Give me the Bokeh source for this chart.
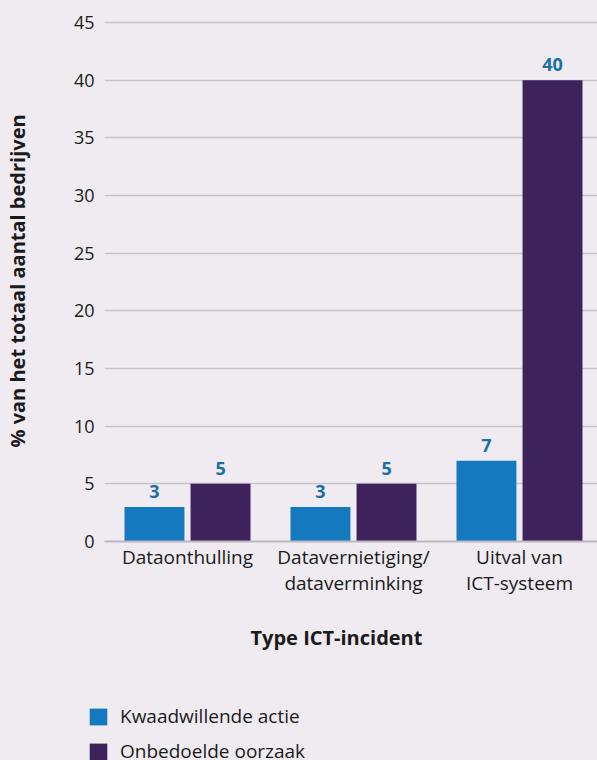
from bokeh.plotting import figure
from bokeh.layouts import column
from bokeh.models import Range1d, FixedTicker, Legend, LegendItem, ColumnDataSource, Title
from bokeh.core.properties import value
from bokeh.embed import file_html
from bokeh.resources import INLINE

categories = ["Dataonthulling", "Datavernietiging/\ndataverminking", "Uitval van\nICT-systeem"]
series_names = ["Kwaadwillende actie", "Onbedoelde oorzaak"]
kwaadwillend = [3, 3, 7]
onbedoeld = [5, 5, 40]
y_ticks = [0, 5, 10, 15, 20, 25, 30, 35, 40, 45]

FONT = "Open Sans"
BG = "#efebf1"
BLUE = "#1479bf"
PURPLE = "#3d225b"
LABEL = "#1a6fa4"
TXT = "#1a1a1a"

p = figure(width=597, height=690, output_backend="svg", toolbar_location=None,
           x_range=Range1d(0, 2.97), y_range=Range1d(0, 45.17),
           min_border_left=100, min_border_right=0, min_border_top=20, min_border_bottom=149)
p.background_fill_color = BG
p.border_fill_color = BG
p.outline_line_color = None

centers = [i + 0.5 for i in range(len(categories))]
off = 0.199
w = 0.361
src1 = ColumnDataSource(dict(x=[c - off for c in centers], top=kwaadwillend, lab=[str(v) for v in kwaadwillend]))
src2 = ColumnDataSource(dict(x=[c + off for c in centers], top=onbedoeld, lab=[str(v) for v in onbedoeld]))

r1 = p.vbar(x="x", top="top", width=w, bottom=0, source=src1, fill_color=BLUE, line_color=None)
r2 = p.vbar(x="x", top="top", width=w, bottom=0, source=src2, fill_color=PURPLE, line_color=None)

for s in (src1, src2):
    p.text(x="x", y="top", text="lab", source=s, text_align="center", text_baseline="bottom",
           y_offset=-9, text_font=value(FONT), text_font_style="bold", text_font_size="18px",
           text_color=LABEL)

# axes
p.xaxis.ticker = FixedTicker(ticks=centers)
p.xaxis.major_label_overrides = {c: lab for c, lab in zip(centers, categories)}
p.xaxis.major_tick_line_color = None
p.xaxis.minor_tick_line_color = None
p.xaxis.axis_line_color = "#bcb8bf"
p.xaxis.axis_line_width = 2
p.xaxis.major_label_text_font = FONT
p.xaxis.major_label_text_font_size = "19px"
p.xaxis.major_label_text_color = TXT
p.xaxis.major_label_text_line_height = 1.0
p.xaxis.major_label_standoff = -4

p.yaxis.ticker = FixedTicker(ticks=y_ticks)
p.yaxis.major_tick_line_color = None
p.yaxis.minor_tick_line_color = None
p.yaxis.axis_line_color = None
p.yaxis.major_label_text_font = FONT
p.yaxis.major_label_text_font_size = "18px"
p.yaxis.major_label_text_color = TXT
p.yaxis.major_label_standoff = 4
p.yaxis.axis_label = "% van het totaal aantal bedrijven"
p.yaxis.axis_label_text_font = FONT
p.yaxis.axis_label_text_font_style = "bold"
p.yaxis.axis_label_text_font_size = "20px"
p.yaxis.axis_label_text_color = TXT
p.yaxis.axis_label_standoff = 40

p.xgrid.grid_line_color = None
p.ygrid.grid_line_color = "#c6c2c9"
p.ygrid.grid_line_width = 1.5

xtitle = Title(text="Type ICT-incident", align="left", offset=146,
               text_font=FONT, text_font_style="bold", text_font_size="20px",
               text_color=TXT, standoff=47)
p.add_layout(xtitle, "below")

# legend figure
lg = figure(width=597, height=70, output_backend="svg", toolbar_location=None,
            x_range=Range1d(0, 1), y_range=Range1d(0, 1),
            x_axis_location=None, y_axis_location=None,
            min_border=0, min_border_left=0, min_border_right=0, min_border_top=0, min_border_bottom=0)
for fig in (p, lg):
    try:
        fig.frame_align = False
    except Exception:
        pass
lg.background_fill_color = BG
lg.border_fill_color = BG
lg.outline_line_color = None
lg.grid.visible = False
d1 = lg.vbar(x=[5], top=[5], width=0.1, fill_color=BLUE, line_color=None)
d2 = lg.vbar(x=[5], top=[5], width=0.1, fill_color=PURPLE, line_color=None)
legend = Legend(items=[LegendItem(label=series_names[0], renderers=[d1]),
                       LegendItem(label=series_names[1], renderers=[d2])],
                location=(87, -4), orientation="vertical",
                label_text_font=FONT, label_text_font_size="19px", label_text_color=TXT,
                glyph_width=22, glyph_height=21, label_height=21, spacing=9,
                padding=0, margin=0, label_standoff=11,
                border_line_color=None, background_fill_alpha=0)
lg.add_layout(legend, "center")

layout = column(p, lg, spacing=0, styles={"background-color": BG})
open("out.html", "w").write(file_html(layout, INLINE))
